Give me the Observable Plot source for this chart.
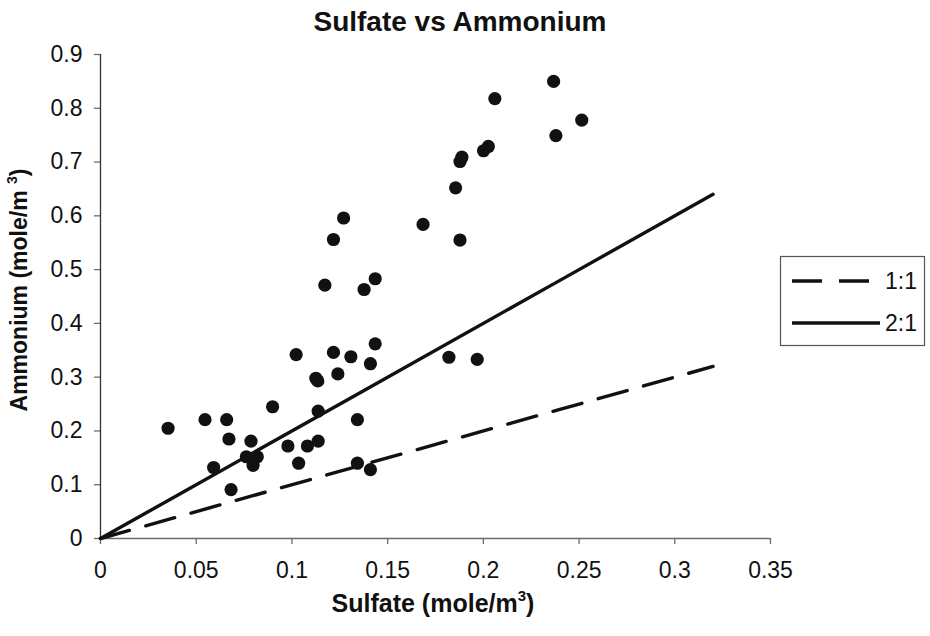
<!DOCTYPE html>
<html>
<head>
<meta charset="utf-8">
<script src="https://cdn.jsdelivr.net/npm/d3@7"></script>
<script src="https://cdn.jsdelivr.net/npm/@observablehq/plot@0.6"></script>
<style>
  html, body { margin: 0; padding: 0; background: #fff; }
  #chart { width: 930px; height: 636px; }
  svg { font-family: "Liberation Sans", Arial, sans-serif; }
</style>
</head>
<body>
<div id="chart"></div>
<script>
// ---- data ----
const sulfate = [
  0.1270, 0.1217, 0.1172, 0.1435, 0.1377, 0.1435, 0.1022, 0.1217, 0.1308, 0.1410,
  0.1240, 0.1125, 0.1135, 0.0899, 0.1137, 0.1342, 0.0353, 0.0546, 0.0659, 0.0671,
  0.0786, 0.0979, 0.1081, 0.1137, 0.0762, 0.0819, 0.0797, 0.0591, 0.1035, 0.1342,
  0.1410, 0.0682,
  0.2367, 0.2060, 0.2514, 0.2379, 0.2026, 0.2001, 0.1888, 0.1878, 0.1855, 0.1685,
  0.1878, 0.1820, 0.1968
];
const ammonium = [
  0.596, 0.556, 0.471, 0.483, 0.463, 0.362, 0.342, 0.346, 0.338, 0.325,
  0.306, 0.298, 0.293, 0.245, 0.237, 0.221, 0.205, 0.221, 0.221, 0.185,
  0.181, 0.172, 0.172, 0.181, 0.152, 0.152, 0.136, 0.132, 0.140, 0.140,
  0.128, 0.091,
  0.850, 0.818, 0.778, 0.749, 0.729, 0.721, 0.709, 0.701, 0.652, 0.584,
  0.555, 0.337, 0.333
];
const ratioX   = [0, 0.04, 0.14, 0.24, 0.32];
const ratio11Y = [0, 0.04, 0.14, 0.24, 0.32];
const ratio21Y = [0, 0.08, 0.28, 0.48, 0.64];
const seriesNames = ["1:1", "2:1"];
const xTicks = [0, 0.05, 0.1, 0.15, 0.2, 0.25, 0.3, 0.35];
const yTicks = [0, 0.1, 0.2, 0.3, 0.4, 0.5, 0.6, 0.7, 0.8, 0.9];
const titleText = "Sulfate vs Ammonium";

// ---- tables built from the arrays ----
const points = sulfate.map((s, i) => ({x: s, y: ammonium[i]}));
const line11 = ratioX.map((x, i) => ({x, y: ratio11Y[i]}));
const line21 = ratioX.map((x, i) => ({x, y: ratio21Y[i]}));
const fmt = d => String(+d.toFixed(2));

const axisColor = "#6b6b6b";
const dash = "30,17";

const chart = Plot.plot({
  width: 930,
  height: 636,
  marginLeft: 100,
  marginRight: 160,
  marginTop: 54,
  marginBottom: 98,
  style: {fontFamily: "'Liberation Sans', Arial, sans-serif", fontSize: "23px", color: "#111", background: "#fff"},
  x: {domain: [0, 0.35]},
  y: {domain: [0, 0.9]},
  marks: [
    Plot.axisX({ticks: xTicks, tickFormat: fmt, tickSize: 6, tickPadding: 17, label: null, stroke: axisColor, strokeWidth: 1.3, fontSize: 23, fill: "#111"}),
    Plot.axisY({ticks: yTicks, tickFormat: fmt, tickSize: 6, tickPadding: 12, label: null, stroke: axisColor, strokeWidth: 1.3, fontSize: 23, fill: "#111"}),
    Plot.ruleY([0], {stroke: axisColor, strokeWidth: 1.5}),
    Plot.ruleX([0], {stroke: "#333", strokeWidth: 1.3}),
    Plot.line(line11, {x: "x", y: "y", stroke: "#111", strokeWidth: 3.4, strokeDasharray: dash}),
    Plot.line(line21, {x: "x", y: "y", stroke: "#111", strokeWidth: 3.4}),
    Plot.dot(points, {x: "x", y: "y", r: 6.6, fill: "#111", stroke: "none"})
  ]
});

document.getElementById("chart").appendChild(chart);

// ---- title, axis titles, legend ----
const svg = d3.select(chart);
const font = "'Liberation Sans', Arial, sans-serif";

svg.append("text")
  .attr("x", 460).attr("y", 31)
  .attr("text-anchor", "middle")
  .attr("font-family", font).attr("font-size", 28).attr("font-weight", "bold")
  .attr("fill", "#111")
  .text(titleText);

const xl = svg.append("text")
  .attr("x", 433).attr("y", 612)
  .attr("text-anchor", "middle")
  .attr("font-family", font).attr("font-size", 25).attr("font-weight", "bold")
  .attr("fill", "#111");
xl.append("tspan").text("Sulfate (mole/m");
xl.append("tspan").attr("font-size", 15).attr("dy", -11).text("3");
xl.append("tspan").attr("dy", 11).text(")");

const yl = svg.append("text")
  .attr("transform", "translate(27,290) rotate(-90)")
  .attr("text-anchor", "middle")
  .attr("font-family", font).attr("font-size", 23).attr("font-weight", "bold")
  .attr("fill", "#111");
yl.append("tspan").text("Ammonium (mole/m ");
yl.append("tspan").attr("font-size", 14).attr("dy", -10).text("3");
yl.append("tspan").attr("dy", 10).text(")");

const lg = svg.append("g");
lg.append("rect")
  .attr("x", 780.5).attr("y", 256.5).attr("width", 144).attr("height", 89)
  .attr("fill", "#fff").attr("stroke", "#555").attr("stroke-width", 1.2);
const legendRows = [
  {name: seriesNames[0], y: 281, x2: 871, dash: dash},
  {name: seriesNames[1], y: 323, x2: 880, dash: null}
];
legendRows.forEach(r => {
  const l = lg.append("line")
    .attr("x1", 792).attr("x2", r.x2).attr("y1", r.y).attr("y2", r.y)
    .attr("stroke", "#111").attr("stroke-width", 3.4);
  if (r.dash) l.attr("stroke-dasharray", r.dash);
  lg.append("text")
    .attr("x", 917).attr("y", r.y + 8)
    .attr("text-anchor", "end")
    .attr("font-family", font).attr("font-size", 23)
    .attr("fill", "#111")
    .text(r.name);
});
</script>
</body>
</html>
